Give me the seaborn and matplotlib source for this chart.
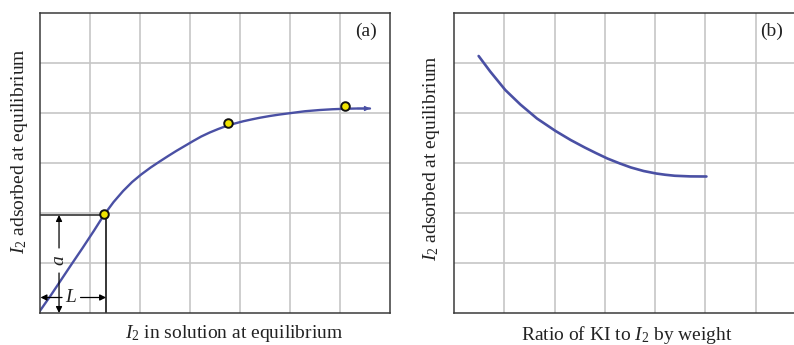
import matplotlib
matplotlib.use("Agg")
import matplotlib.pyplot as plt
import seaborn as sns

# ---- data ----
curve_a_x = [0.0, 0.23, 0.43, 0.63, 0.86, 1.09, 1.28, 1.48, 1.67, 1.85, 2.03, 2.22, 2.4,
             2.57, 2.73, 2.9, 3.07, 3.23, 3.4, 3.57, 3.73, 3.9, 4.07, 4.23, 4.4, 4.6,
             4.8, 5.03, 5.3, 5.6, 5.85, 6.1, 6.35, 6.6]
curve_a_y = [0.03, 0.36, 0.66, 0.96, 1.3, 1.65, 1.95, 2.22, 2.44, 2.62, 2.77, 2.91, 3.03,
             3.14, 3.24, 3.34, 3.44, 3.53, 3.61, 3.68, 3.74, 3.79, 3.835, 3.87, 3.905, 3.94,
             3.97, 4.0, 4.035, 4.06, 4.075, 4.085, 4.09, 4.09]
points_a_x = [1.28, 3.77, 6.11]
points_a_y = [1.99, 3.81, 4.14]
guide_x = 1.33
guide_y = 1.96

curve_b_x = [0.49, 0.72, 1.02, 1.32, 1.65, 2.02, 2.32, 2.6, 2.82, 3.05, 3.3, 3.52, 3.77,
             4.02, 4.2, 4.39, 4.7, 5.02]
curve_b_y = [5.14, 4.83, 4.46, 4.17, 3.89, 3.64, 3.46, 3.31, 3.2, 3.09, 2.99, 2.91, 2.84,
             2.79, 2.765, 2.745, 2.732, 2.73]

xlabel_a = r"$I_2$ in solution at equilibrium"
xlabel_b = r"Ratio of KI to $I_2$ by weight"
ylabel = r"$I_2$ adsorbed at equilibrium"
panel_a = "(a)"
panel_b = "(b)"

sns.set_style("white")
plt.rcParams["font.family"] = ["Liberation Serif", "DejaVu Serif"]
plt.rcParams["mathtext.fontset"] = "custom"
plt.rcParams["mathtext.rm"] = "Liberation Serif"
plt.rcParams["mathtext.it"] = "Liberation Serif:italic"

W, H = 794, 345
fig = plt.figure(figsize=(W / 100, H / 100), dpi=100)
ax_a = fig.add_axes([39.5 / W, (H - 313) / H, 350.5 / W, 300 / H])
ax_b = fig.add_axes([454 / W, (H - 313) / H, 352 / W, 300 / H])

blue = "#4a50a4"
grid_c = "#c6c6c6"
spine_c = "#3a3a3a"
txt_c = "#222222"

for ax in (ax_a, ax_b):
    ax.set_xlim(0, 7)
    ax.set_ylim(0, 6)
    ax.set_xticks(range(1, 7))
    ax.set_yticks(range(1, 6))
    ax.tick_params(length=0, labelbottom=False, labelleft=False)
    ax.grid(True, color=grid_c, lw=1.2)
    ax.set_axisbelow(True)
    for s in ax.spines.values():
        s.set_color(spine_c)
        s.set_linewidth(1.1)
        s.set_visible(True)

# panel (a)
sns.lineplot(x=curve_a_x, y=curve_a_y, ax=ax_a, color=blue, lw=1.7, sort=False)
ax_a.annotate("", xy=(curve_a_x[-1], curve_a_y[-1]), xytext=(curve_a_x[-2], curve_a_y[-2]),
              arrowprops=dict(arrowstyle="-|>", color=blue, lw=1.0, mutation_scale=7,
                              shrinkA=0, shrinkB=0))
ax_a.plot([0, guide_x], [guide_y, guide_y], color="#333333", lw=1.2, zorder=2)
ax_a.plot([guide_x, guide_x], [0, guide_y], color="black", lw=1.1, zorder=2)
sns.scatterplot(x=points_a_x, y=points_a_y, ax=ax_a, color="#f0e400", edgecolor="#111111",
                linewidth=1.4, s=38, zorder=5)

arr = dict(arrowstyle="-|>", color="black", lw=0.9, mutation_scale=9, shrinkA=0, shrinkB=0)
ax_a.annotate("", xy=(0.39, guide_y), xytext=(0.39, 1.3), arrowprops=arr)
ax_a.annotate("", xy=(0.39, 0.0), xytext=(0.39, 0.8), arrowprops=arr)
ax_a.text(0.39, 1.05, "a", rotation=90, ha="center", va="center", fontsize=14,
          style="italic", color=txt_c)
ax_a.annotate("", xy=(0.02, 0.31), xytext=(0.45, 0.31), arrowprops=arr)
ax_a.annotate("", xy=(guide_x, 0.31), xytext=(0.82, 0.31), arrowprops=arr)
ax_a.text(0.63, 0.31, "L", ha="center", va="center", fontsize=14, style="italic", color=txt_c)

ax_a.text(0.932, 0.94, panel_a, transform=ax_a.transAxes, ha="center", va="center",
          fontsize=14, color=txt_c)
ax_a.set_xlabel("")
ax_a.set_ylabel("")
ax_a.text(0.555, -0.035, xlabel_a, transform=ax_a.transAxes, ha="center", va="top",
          fontsize=14, color=txt_c, clip_on=False)
ax_a.text(-0.058, 0.54, ylabel, transform=ax_a.transAxes, ha="center", va="center",
          rotation=90, fontsize=14, color=txt_c, clip_on=False)

# panel (b)
sns.lineplot(x=curve_b_x, y=curve_b_y, ax=ax_b, color=blue, lw=1.9, sort=False)
ax_b.text(0.903, 0.94, panel_b, transform=ax_b.transAxes, ha="center", va="center",
          fontsize=14, color=txt_c)
ax_b.set_xlabel("")
ax_b.set_ylabel("")
ax_b.text(0.49, -0.035, xlabel_b, transform=ax_b.transAxes, ha="center", va="top",
          fontsize=14, color=txt_c, clip_on=False)
ax_b.text(-0.065, 0.515, ylabel, transform=ax_b.transAxes, ha="center", va="center",
          rotation=90, fontsize=14, color=txt_c, clip_on=False)

fig.savefig("out.png", dpi=100)
